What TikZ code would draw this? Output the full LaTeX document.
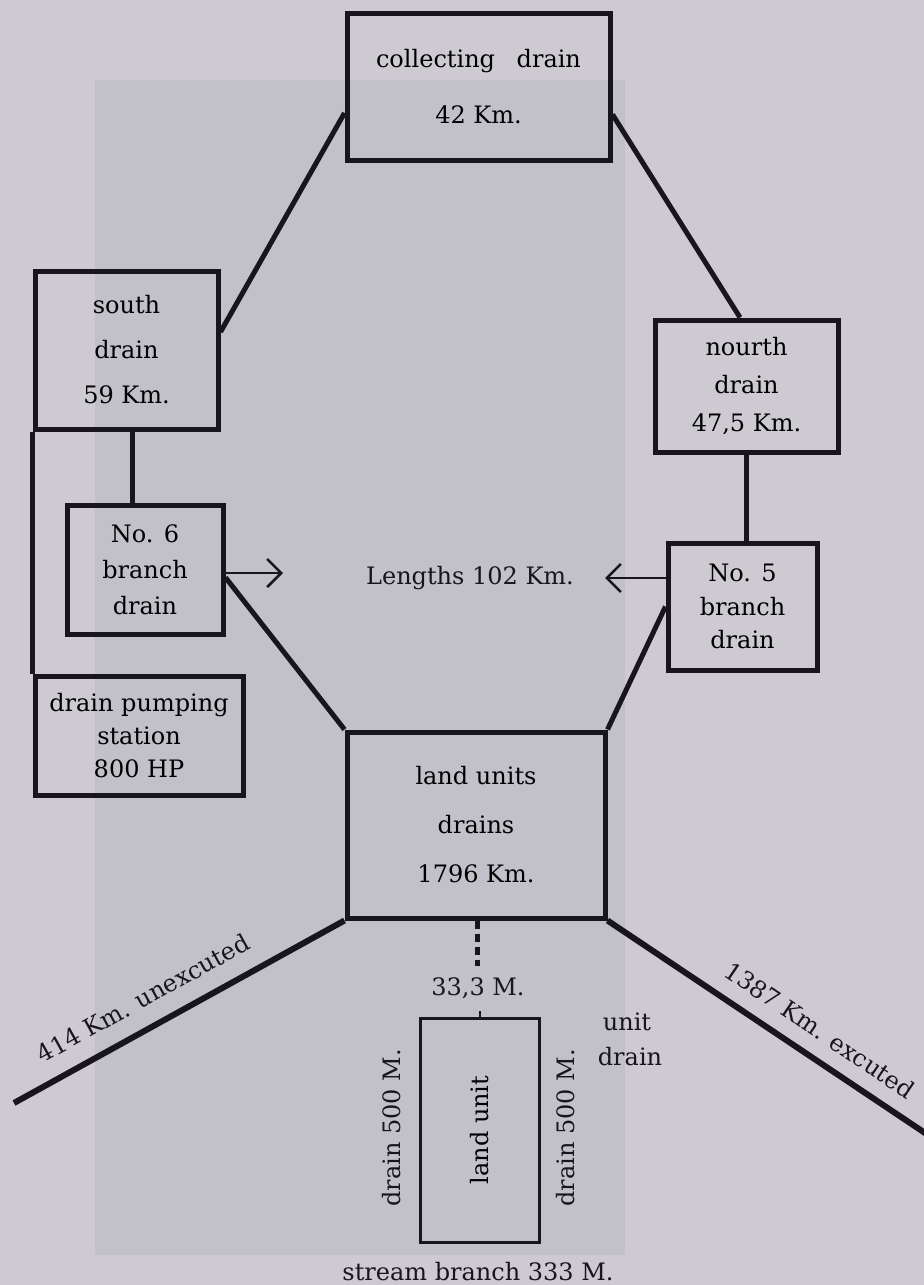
\documentclass[tikz,border=0pt]{standalone}
\usepackage{fontspec}
\setmainfont{DejaVu Serif}
\usetikzlibrary{arrows.meta,calc}
\definecolor{bgA}{RGB}{206,202,210}
\definecolor{bgB}{RGB}{194,192,200}
\definecolor{ink}{RGB}{24,22,28}
\begin{document}
\begin{tikzpicture}[x=0.5pt,y=-0.5pt,
  box/.style 2 args={draw=ink,line width=2.5pt,minimum width=#1,minimum height=#2,inner sep=0pt,align=center},
  conn/.style={draw=ink,line width=2.5pt},
  arr/.style={draw=ink,line width=1.3pt,-{Straight Barb[length=7pt,width=14pt,line width=1.3pt]}},
  lbl/.style={font=\fontsize{12}{14}\selectfont,text=ink,inner sep=1pt}]
\useasboundingbox (0,0) rectangle (924,1285);
\fill[bgA] (0,0) rectangle (924,1285);
\fill[bgB] (95,80) rectangle (625,1255);
% boxes
\node[box={131.5pt}{73.5pt},font=\fontsize{12}{28}\selectfont] (coll) at (478.5,86.5) {collecting\hspace{0.9em}drain\\42 Km.};
\node[box={91.5pt}{79pt},font=\fontsize{12}{22.5}\selectfont] (south) at (126.5,350) {south\\drain\\59 Km.};
\node[box={91.5pt}{66pt},font=\fontsize{12}{19}\selectfont] (north) at (746.5,386) {nourth\\drain\\47,5 Km.};
\node[box={78pt}{64.5pt},font=\fontsize{12}{18}\selectfont] (no6) at (145,569.5) {No. 6\\branch\\drain};
\node[box={74.5pt}{63.5pt},font=\fontsize{12}{16.75}\selectfont] (no5) at (742.5,606.5) {No. 5\\branch\\drain};
\node[box={104pt}{59.5pt},font=\fontsize{12}{16.5}\selectfont] (pump) at (139,735.5) {drain pumping\\station\\800 HP};
\node[box={129pt}{93pt},font=\fontsize{12}{24.5}\selectfont] (land) at (476,825) {land units\\drains\\1796 Km.};
\node[box={112pt}{59.5pt},line width=1.5pt,rotate=90,font=\fontsize{12}{14}\selectfont] (unit) at (479.5,1130) {land unit};
% connectors
\draw[conn] ([yshift=-13.25pt]coll.west) -- ([yshift=9pt]south.east);
\draw[conn] ([yshift=-14pt]coll.east) -- ([xshift=-3.25pt]north.north);
\draw[conn] ([xshift=2.75pt]south.south) coordinate (s6) -- (s6 |- no6.north);
\draw[conn] (south.south west) -- (pump.north west);
\draw[conn] (north.south) -- (north.south |- no5.north);
\coordinate (a6) at (283,573);
\coordinate (a5) at (605,578);
\draw[arr] ([yshift=-1.75pt]no6.east) -- (a6);
\draw[arr] ([yshift=14.25pt]no5.west) -- (a5);
\draw[conn] ([yshift=-4pt]no6.east) -- (land.north west);
\draw[conn] (no5.west) -- (land.north east);
\node[lbl] (len) at (470,578) {Lengths 102 Km.};
% bottom
\coordinate (bl) at (14,1103);
\coordinate (br) at (934,1139);
\draw[conn,line width=3pt] (land.south west) -- (bl);
\draw[conn,line width=3pt] (land.south east) -- (br);
\node[lbl,rotate=29] (t414) at (143,998) {414 Km. unexcuted};
\node[lbl,rotate=-34] (t1387) at (820,1030) {1387 Km. excuted};
\coordinate (dd) at (477,966);
\draw[draw=ink,line width=2.5pt,dash pattern=on 4pt off 2.5pt] (land.south -| dd) -- (dd);
\node[lbl] (m33) at (478,988) {33,3 M.};
\coordinate (tk) at (479.5,1011);
\draw[draw=ink,line width=1pt] (unit.east) -- (tk);
\node[lbl,rotate=90] (dl) at (392,1128) {drain 500 M.};
\node[lbl,rotate=90] (dr) at (566,1128) {drain 500 M.};
\node[lbl] (ud1) at (627,1022) {unit};
\node[lbl] (ud2) at (630,1057) {drain};
\node[lbl] (stream) at (478,1272) {stream branch 333 M.};
\end{tikzpicture}
\end{document}
